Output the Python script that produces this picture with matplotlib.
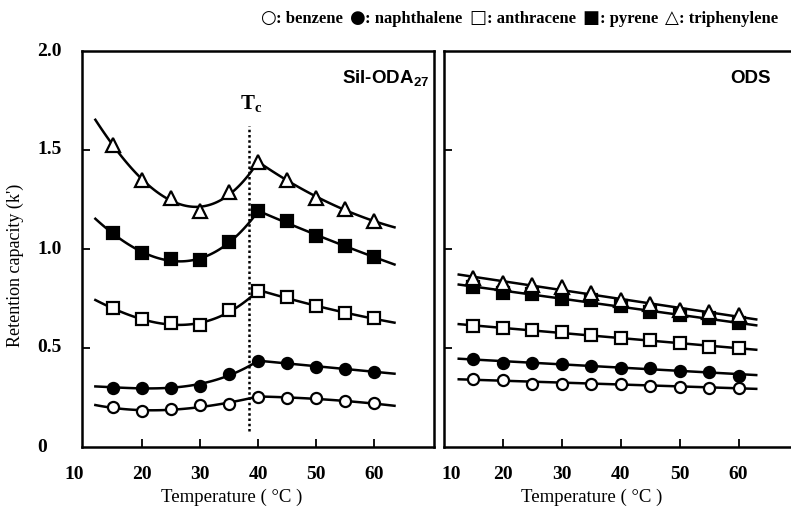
import numpy as np
import matplotlib
matplotlib.use("Agg")
import matplotlib.pyplot as plt
from matplotlib.offsetbox import TextArea, HPacker, AnchoredOffsetbox

plt.rcParams['font.family'] = ['Liberation Serif', 'DejaVu Sans']
plt.rcParams['mathtext.fontset'] = 'custom'
plt.rcParams['mathtext.rm'] = 'Liberation Sans:bold'
plt.rcParams['mathtext.bf'] = 'Liberation Serif:bold'

temps = [15, 20, 25, 30, 35, 40, 45, 50, 55, 60]

# Sil-ODA27 panel
benzene_sil = [0.20, 0.18, 0.19, 0.21, 0.215, 0.255, 0.25, 0.245, 0.23, 0.22]
naphthalene_sil = [0.30, 0.30, 0.30, 0.31, 0.37, 0.435, 0.425, 0.405, 0.395, 0.38]
anthracene_sil = [0.70, 0.645, 0.625, 0.615, 0.69, 0.79, 0.76, 0.71, 0.675, 0.65]
pyrene_sil = [1.08, 0.98, 0.95, 0.945, 1.035, 1.19, 1.14, 1.065, 1.015, 0.96]
triphenylene_sil = [1.525, 1.35, 1.26, 1.19, 1.29, 1.44, 1.35, 1.26, 1.20, 1.14]

# ODS panel
benzene_ods = [0.345, 0.34, 0.32, 0.32, 0.32, 0.32, 0.31, 0.305, 0.30, 0.30]
naphthalene_ods = [0.445, 0.425, 0.425, 0.42, 0.41, 0.40, 0.40, 0.385, 0.38, 0.36]
anthracene_ods = [0.61, 0.60, 0.59, 0.58, 0.565, 0.55, 0.54, 0.525, 0.505, 0.50]
pyrene_ods = [0.81, 0.78, 0.775, 0.75, 0.74, 0.71, 0.68, 0.665, 0.65, 0.625]
triphenylene_ods = [0.853, 0.83, 0.82, 0.81, 0.78, 0.74, 0.72, 0.69, 0.68, 0.665]

Tc = 38.5
xticks = [20, 30, 40, 50, 60]
xtick_labels = ['10', '20', '30', '40', '50', '60']
yticks = [0, 0.5, 1.0, 1.5, 2.0]
ytick_labels = ['0', '0.5', '1.0', '1.5', '2.0']
legend_symbols = ['○', '●', '□', '■', '△']
legend_names = ['benzene', 'naphthalene', 'anthracene', 'pyrene', 'triphenylene']

styles = [
    dict(marker='o', mfc='white', ms=8),   # benzene
    dict(marker='o', mfc='black', ms=8),   # naphthalene
    dict(marker='s', mfc='white', ms=8.5), # anthracene
    dict(marker='s', mfc='black', ms=8.5), # pyrene
    dict(marker='^', mfc='white', ms=10.5),  # triphenylene
]

W, H = 791, 515
fig = plt.figure(figsize=(W / 100, H / 100), dpi=100)
axL = fig.add_axes([82 / W, 68 / H, 352 / W, 396 / H])
axR = fig.add_axes([444 / W, 68 / H, 347 / W, 396 / H])

t = np.array(temps, dtype=float)

sil = [benzene_sil, naphthalene_sil, anthracene_sil, pyrene_sil, triphenylene_sil]
ods = [benzene_ods, naphthalene_ods, anthracene_ods, pyrene_ods, triphenylene_ods]

LW = 1.8
for vals, st in zip(sil, styles):
    v = np.array(vals)
    lo = t <= 40
    w = np.where(t == 40, 10.0, 1.0)[lo]
    p_lo = np.polyfit(t[lo], v[lo], 3, w=w)
    hi = t >= 40
    p_hi = np.polyfit(t[hi], v[hi], 2)
    x1 = np.linspace(12, 40, 100)
    x2 = np.linspace(40, 63.5, 100)
    axL.plot(x1, np.polyval(p_lo, x1), color='black', lw=LW, zorder=2)
    axL.plot(x2, np.polyval(p_hi, x2), color='black', lw=LW, zorder=2)
    axL.plot(t, v, linestyle='none', marker=st['marker'], mfc=st['mfc'],
             mec='black', mew=1.6, ms=st['ms'], zorder=3)

for vals, st in zip(ods, styles):
    v = np.array(vals)
    p = np.polyfit(t, v, 1)
    x = np.linspace(12.5, 63, 50)
    axR.plot(x, np.polyval(p, x), color='black', lw=LW, zorder=2)
    axR.plot(t, v, linestyle='none', marker=st['marker'], mfc=st['mfc'],
             mec='black', mew=1.6, ms=st['ms'], zorder=3)

axL.plot([Tc, Tc], [0.08, 1.62], color='black', lw=1.8, linestyle=(0, (1, 1.1)), zorder=1)
axL.text(Tc + 0.3, 1.73, r'T$_{\mathbf{c}}$', ha='center', va='center',
         fontsize=15, fontweight='bold', family='Liberation Serif')
axL.text(69.5, 1.86, r'Sil-ODA$_{27}$', ha='right', va='center', fontsize=13.5,
         fontweight='bold', family='Liberation Sans')
axR.text(65.4, 1.86, 'ODS', ha='right', va='center', fontsize=13.5,
         fontweight='bold', family='Liberation Sans')

axL.set_xlim(9.7, 70.3)
axR.set_xlim(10, 68.9)
for ax in (axL, axR):
    ax.set_ylim(0, 2.0)
    ax.set_xticks(xticks)
    ax.set_yticks([0.5, 1.0, 1.5])
    ax.tick_params(direction='in', length=6, width=1.3)
    for s in ax.spines.values():
        s.set_linewidth(1.8)
    ax.set_xticklabels([])
    ax.set_yticklabels([])
axR.spines['right'].set_visible(False)

# tick labels
for ax, x10 in ((axL, 8.4), (axR, 11.2)):
    for v, lab in zip([10] + xticks, xtick_labels):
        xx = v if v != 10 else x10
        ax.text(xx, -0.14, lab, ha='center', va='center', fontsize=14,
                fontweight='bold', transform=ax.transData)
for v, lab in zip(yticks, ytick_labels):
    fig.text(37 / W, (68 + v * 198) / H, lab, ha='left', va='center', fontsize=14,
             fontweight='bold')

fig.text(232 / W, 18 / H, 'Temperature ( °C )', ha='center', va='center', fontsize=13.5)
fig.text(592 / W, 18 / H, 'Temperature ( °C )', ha='center', va='center', fontsize=13.5)
fig.text(15 / W, 250 / H, "Retention capacity (k')", ha='center', va='center',
         rotation=90, fontsize=13)

# legend line at top
pairs = []
for sym, name in zip(legend_symbols, legend_names):
    a = TextArea(sym, textprops=dict(fontsize=13, family='DejaVu Sans'))
    b = TextArea(': ' + name, textprops=dict(fontsize=12, fontweight='bold',
                                             family='Liberation Serif'))
    pairs.append(HPacker(children=[a, b], align='baseline', pad=0, sep=0))
box = HPacker(children=pairs, align='baseline', pad=0, sep=5)
anch = AnchoredOffsetbox(loc='center', child=box, pad=0, frameon=False,
                         bbox_to_anchor=(519 / W, 1 - 18 / H),
                         bbox_transform=fig.transFigure, borderpad=0)
fig.add_artist(anch)

fig.savefig('out.png', dpi=100)
